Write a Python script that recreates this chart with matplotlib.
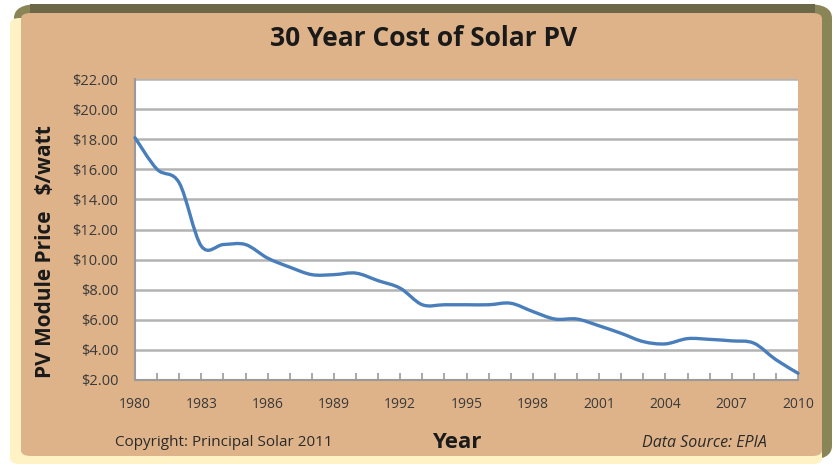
import matplotlib.pyplot as plt
import numpy as np
from matplotlib.patches import FancyBboxPatch, PathPatch
from matplotlib.path import Path

# PV module price, $/watt
years = list(range(1980, 2011))
prices = [18.1, 16.0, 15.1, 10.9, 11.0, 11.0, 10.1, 9.5, 9.0, 9.0,
          9.1, 8.6, 8.1, 7.0, 7.0, 7.0, 7.0, 7.1, 6.55, 6.05,
          6.05, 5.6, 5.1, 4.55, 4.4, 4.75, 4.7, 4.6, 4.45, 3.35,
          2.45]
xtick_years = list(range(1980, 2011, 3))
ytick_vals = list(range(2, 23, 2))

plt.rcParams['font.family'] = ['Open Sans', 'DejaVu Sans']

fig = plt.figure(figsize=(8.39, 4.66), dpi=100)
fig.patch.set_facecolor('white')

# frame: olive top/right edge, pale left/bottom edge, tan panel
W, H = 839, 466
def fx(px):
    return px / W
def fy(py):
    return 1 - py / H

def box(x0, y0, x1, y1, color, r, z):
    fig.patches.append(FancyBboxPatch((fx(x0), fy(y1)), fx(x1 - x0), fy(y0) - fy(y1),
                                      boxstyle='round,pad=0,rounding_size=%f' % r,
                                      transform=fig.transFigure, facecolor=color,
                                      edgecolor='none', zorder=z))

box(14, 4, 832, 460, '#8a8556', 0.03, 0)
box(30, 4, 815, 13, '#6b6747', 0.0, 0)
box(10, 18, 822, 464, '#fff2c4', 0.012, 1)
box(21, 13, 822, 456, '#dfb38a', 0.012, 2)

ax = fig.add_axes([fx(135), fy(380), fx(663), fy(79) - fy(380)])
ax.set_facecolor('white')
ax.set_zorder(3)

# smoothed line (Catmull-Rom drawn as cubic Bezier path)
x = np.array(years, dtype=float)
y = np.array(prices, dtype=float)
verts = [(x[0], y[0])]
codes = [Path.MOVETO]
for i in range(len(x) - 1):
    p0 = (x[i - 1], y[i - 1]) if i > 0 else (x[i], y[i])
    p1 = (x[i], y[i])
    p2 = (x[i + 1], y[i + 1])
    p3 = (x[i + 2], y[i + 2]) if i + 2 < len(x) else (x[i + 1], y[i + 1])
    c1 = (p1[0] + (p2[0] - p0[0]) / 6, p1[1] + (p2[1] - p0[1]) / 6)
    c2 = (p2[0] - (p3[0] - p1[0]) / 6, p2[1] - (p3[1] - p1[1]) / 6)
    verts += [c1, c2, p2]
    codes += [Path.CURVE4] * 3
ax.add_patch(PathPatch(Path(verts, codes), facecolor='none', edgecolor='#4a7ebb',
                       linewidth=2.4, capstyle='round', joinstyle='round',
                       clip_on=False, zorder=3))

ax.set_xlim(1980, 2010)
ax.set_ylim(2, 22)
ax.set_xticks(xtick_years)
ax.set_xticks(years, minor=True)
ax.set_yticks(ytick_vals)
ax.set_yticklabels(['${:.2f}'.format(v) for v in ytick_vals])
ax.grid(axis='y', color='#b3b3b3', linewidth=1.8)
ax.set_axisbelow(True)
for s in ['top', 'right']:
    ax.spines[s].set_visible(False)
for s in ['left', 'bottom']:
    ax.spines[s].set_color('#9a9a9a')
    ax.spines[s].set_linewidth(1.5)
ax.tick_params(axis='y', length=0, pad=12, labelsize=10.5, labelcolor='#3a3a3a')
ax.tick_params(axis='x', which='both', direction='in', length=5, color='#9a9a9a',
               width=1.2, pad=12, labelsize=10, labelcolor='#3a3a3a')

fig.text(fx(424), fy(38), '30 Year Cost of Solar PV', ha='center', va='center',
         fontsize=19, fontweight='bold', color='#1a1a1a')
fig.text(fx(46), fy(252), 'PV Module Price   $/watt', ha='center', va='center',
         rotation=90, fontsize=15, fontweight='bold', color='#1a1a1a')
fig.text(fx(457), fy(442), 'Year', ha='center', va='center',
         fontsize=16, fontweight='bold', color='#1a1a1a')
fig.text(fx(224), fy(443), 'Copyright: Principal Solar 2011', ha='center', va='center',
         fontsize=11, color='#2a2a2a')
fig.text(fx(704), fy(443), 'Data Source: EPIA', ha='center', va='center',
         fontsize=11.5, style='italic', color='#2a2a2a')

fig.savefig('out.png', dpi=100, facecolor=fig.get_facecolor())
